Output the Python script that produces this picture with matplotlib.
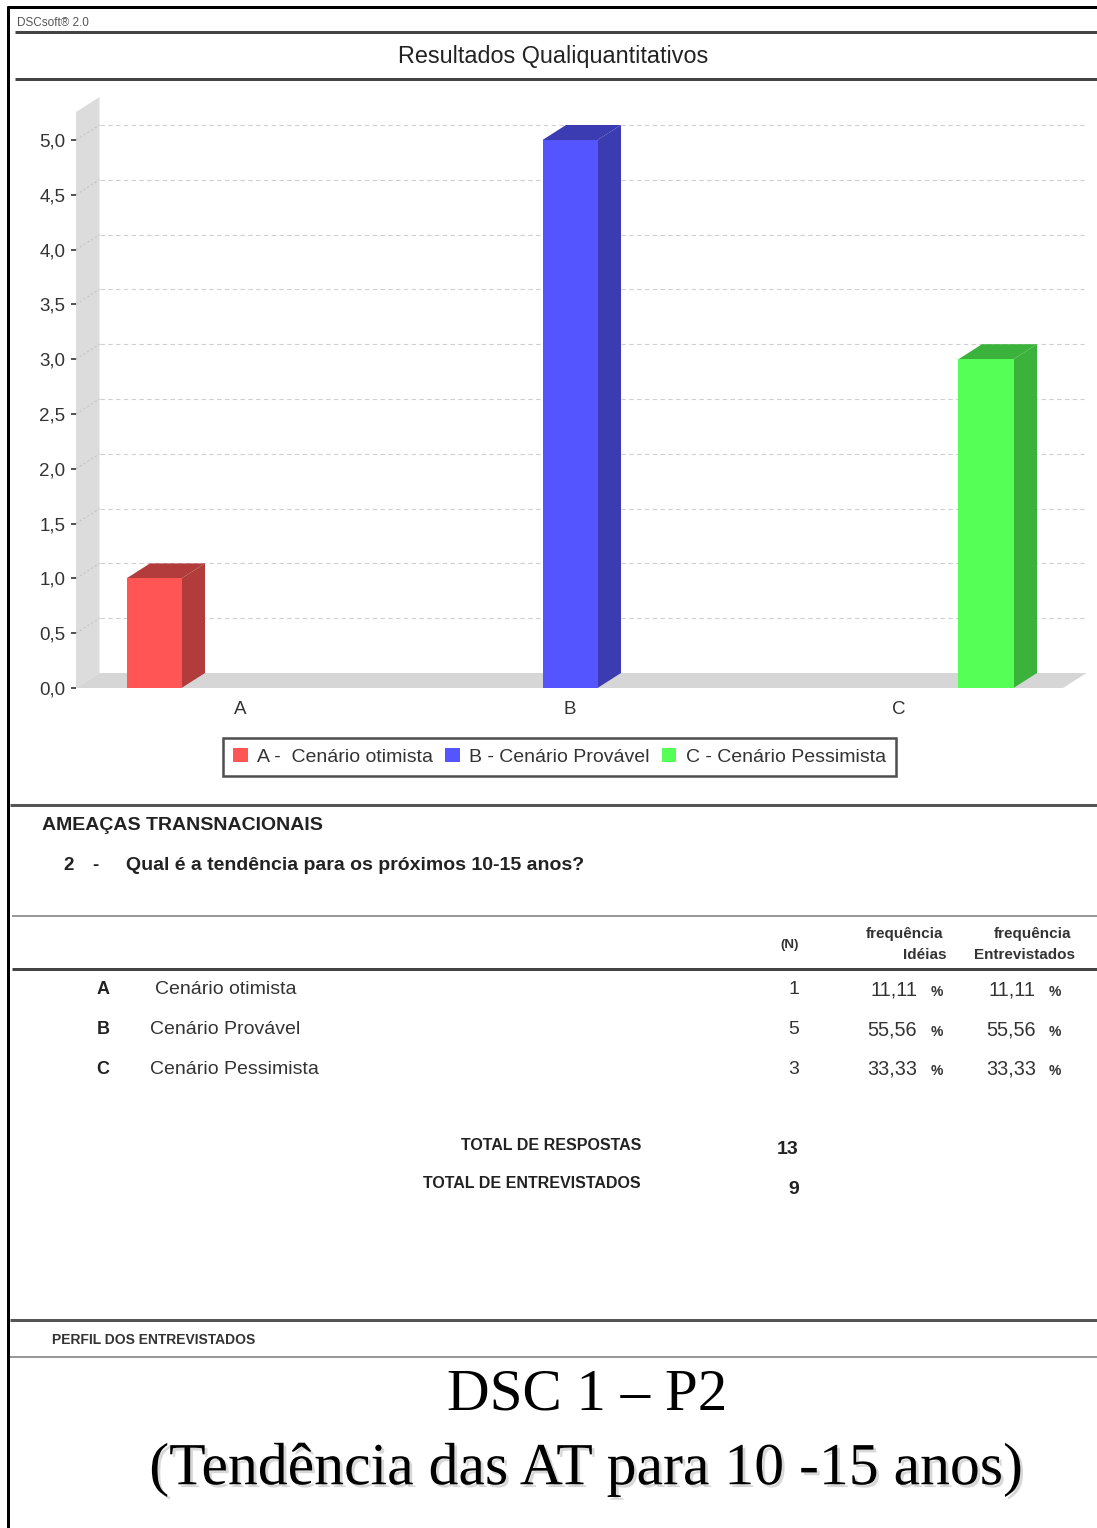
import matplotlib
matplotlib.use("Agg")
import matplotlib.pyplot as plt
from matplotlib.patches import Polygon
import matplotlib.patheffects as pe

# ---------------- data ----------------
categories = ["A", "B", "C"]
series_labels = ["A -  Cenário otimista", "B - Cenário Provável", "C - Cenário Pessimista"]
values = [1, 5, 3]
y_ticks = [0.0, 0.5, 1.0, 1.5, 2.0, 2.5, 3.0, 3.5, 4.0, 4.5, 5.0]
row_letters = ["A", "B", "C"]
row_names = ["Cenário otimista", "Cenário Provável", "Cenário Pessimista"]
row_n = ["1", "5", "3"]
freq_ideias = ["11,11", "55,56", "33,33"]
freq_entrev = ["11,11", "55,56", "33,33"]
total_respostas = "13"
total_entrevistados = "9"

front_colors = ["#ff5555", "#5555ff", "#55ff55"]
dark_colors = ["#b23b3b", "#3b3bb2", "#3bb23b"]

W, H = 1097, 1528
fig = plt.figure(figsize=(W / 100, H / 100), dpi=100)
SANS = ["Liberation Sans", "DejaVu Sans"]
SERIF = ["Liberation Serif", "DejaVu Serif"]

# page overlay in pixel coords
pg = fig.add_axes([0, 0, 1, 1])
pg.set_xlim(0, W)
pg.set_ylim(H, 0)
pg.axis("off")

def hline(y, x0, x1, px, color):
    pg.plot([x0, x1], [y, y], color=color, lw=px * 0.72, solid_capstyle="butt")

# borders
pg.plot([8, 8], [6, H], color="black", lw=3 * 0.72, solid_capstyle="butt")
hline(7, 7, W, 3, "black")
hline(32, 15, W, 3, "#444444")
hline(79, 15, W, 3, "#444444")
hline(805, 10, W, 3, "#555555")
hline(916, 12, W, 1.5, "#777777")
hline(969, 12, W, 3, "#444444")
hline(1320, 10, W, 3, "#555555")
hline(1357, 10, W, 1.5, "#777777")

pg.text(17, 23, "DSCsoft® 2.0", fontsize=8.5, family=SANS, color="#555555",
        va="center", ha="left", fontstretch="condensed")
pg.text(553, 56, "Resultados Qualiquantitativos", fontsize=16.8, family=SANS,
        color="#222222", ha="center", va="center")

# ---------------- chart ----------------
px_x = 987 / 3.0
px_y = 109.6
dx = 23.5 / px_x
dy = 15 / px_y
ytop = (688 - 112) / px_y

ax = fig.add_axes([76 / W, (H - 688) / H, 987 / W, (688 - 112) / H])
ax.set_facecolor("none")
ax.set_xlim(-0.5, 2.5)
ax.set_ylim(0, ytop)
for s in ax.spines.values():
    s.set_visible(False)

# left wall and floor
ax.add_patch(Polygon([(-0.5, 0), (-0.5 + dx, dy), (-0.5 + dx, ytop + dy), (-0.5, ytop)],
                     closed=True, facecolor="#dcdcdc", edgecolor="none", clip_on=False, zorder=0))
ax.add_patch(Polygon([(-0.5, 0), (-0.5 + dx, dy), (2.5 + dx, dy), (2.5, 0)],
                     closed=True, facecolor="#d6d6d6", edgecolor="none", clip_on=False, zorder=0.5))
# gridlines on back wall
for t in y_ticks[1:]:
    ax.plot([-0.5 + dx, 2.5 + dx * 0.9], [t + dy, t + dy], color="#cfcfcf", lw=0.8,
            ls=(0, (4, 3)), clip_on=False, zorder=0.3)
    ax.plot([-0.5, -0.5 + dx], [t, t + dy], color="#c4c4c4", lw=0.8,
            ls=(0, (2, 2)), clip_on=False, zorder=0.3)

bw = 55 / px_x
offsets = [-86.5 / px_x, 0.5 / px_x, 87.5 / px_x]
handles = []
for i, v in enumerate(values):
    xc = i + offsets[i]
    b = ax.bar([xc], [v], width=bw, color=front_colors[i], zorder=3, label=series_labels[i])
    handles.append(b)
    x0, x1 = xc - bw / 2, xc + bw / 2
    ax.add_patch(Polygon([(x0, v), (x0 + dx, v + dy), (x1 + dx, v + dy), (x1, v)],
                         closed=True, facecolor=dark_colors[i], edgecolor="none", zorder=2, clip_on=False))
    ax.add_patch(Polygon([(x1, 0), (x1 + dx, dy), (x1 + dx, v + dy), (x1, v)],
                         closed=True, facecolor=dark_colors[i], edgecolor="none", zorder=2, clip_on=False))

ax.set_yticks(y_ticks)
ax.set_yticklabels([f"{t:.1f}".replace(".", ",") for t in y_ticks], family=SANS,
                   fontsize=13.5, color="#333333")
ax.tick_params(axis="y", direction="out", length=3.5, width=1.2, color="#333333", pad=4)
ax.set_xticks(range(len(categories)))
ax.set_xticklabels(categories, family=SANS, fontsize=13.5, color="#333333")
ax.tick_params(axis="x", length=0, pad=9)

leg = fig.legend(handles=handles, labels=series_labels, loc="center",
                 bbox_to_anchor=(559.5 / W, (H - 757) / H), ncol=3, frameon=True,
                 fancybox=False, edgecolor="#222222", prop={"family": SANS, "size": 14},
                 handlelength=0.75, handleheight=0.75, handletextpad=0.5,
                 columnspacing=0.6, borderpad=0.5, borderaxespad=0)
leg.get_frame().set_linewidth(1.8)
for t in leg.get_texts():
    t.set_color("#333333")

# ---------------- text sections ----------------
pg.text(42, 826, "AMEAÇAS TRANSNACIONAIS", fontsize=14, family=SANS, weight="bold",
        color="#222222", va="center", ha="left")
pg.text(69, 865, "2", fontsize=13.5, family=SANS, weight="bold", color="#222222", va="center", ha="center")
pg.text(95, 865, "-", fontsize=13.5, family=SANS, weight="bold", color="#222222", va="center", ha="center")
pg.text(126, 865, "Qual é a tendência para os próximos 10-15 anos?", fontsize=14, family=SANS,
        weight="bold", color="#222222", va="center", ha="left")

pg.text(790, 945, "(N)", fontsize=9.5, family=SANS, weight="bold", color="#333333", va="center", ha="center")
pg.text(943, 934, "frequência", fontsize=11, family=SANS, weight="bold", color="#333333", va="center", ha="right")
pg.text(946, 955, "Idéias", fontsize=11, family=SANS, weight="bold", color="#333333", va="center", ha="right")
pg.text(1071, 934, "frequência", fontsize=11, family=SANS, weight="bold", color="#333333", va="center", ha="right")
pg.text(1075, 955, "Entrevistados", fontsize=11, family=SANS, weight="bold", color="#333333", va="center", ha="right")

row_y = [990, 1030, 1069]
name_x = [155, 150, 150]
for k in range(len(row_letters)):
    y = row_y[k]
    pg.text(103, y, row_letters[k], fontsize=13, family=SANS, weight="bold", color="#222222", va="center", ha="center")
    pg.text(name_x[k], y, row_names[k], fontsize=14, family=SANS, color="#333333", va="center", ha="left")
    pg.text(794, y, row_n[k], fontsize=14, family=SANS, color="#333333", va="center", ha="center")
    pg.text(917, y, freq_ideias[k], fontsize=14.3, family=SANS, color="#333333", va="center", ha="right")
    pg.text(937, y + 2, "%", fontsize=10, family=SANS, weight="bold", color="#333333", va="center", ha="center")
    pg.text(1036, y, freq_entrev[k], fontsize=14.3, family=SANS, color="#333333", va="center", ha="right")
    pg.text(1055, y + 2, "%", fontsize=10, family=SANS, weight="bold", color="#333333", va="center", ha="center")

pg.text(641, 1145, "TOTAL DE RESPOSTAS", fontsize=11.5, family=SANS, weight="bold", color="#222222",
        va="center", ha="right")
pg.text(788, 1149, total_respostas, fontsize=14, family=SANS, weight="bold", color="#222222", va="center", ha="center")
pg.text(641, 1184, "TOTAL DE ENTREVISTADOS", fontsize=11.5, family=SANS, weight="bold", color="#222222",
        va="center", ha="right")
pg.text(794, 1189, total_entrevistados, fontsize=14, family=SANS, weight="bold", color="#222222", va="center", ha="center")

pg.text(52, 1340, "PERFIL DOS ENTREVISTADOS", fontsize=10, family=SANS, weight="bold", color="#333333",
        va="center", ha="left")

pg.text(587, 1395, "DSC 1 – P2", fontsize=42.5, family=SERIF, color="black", va="center", ha="center")
pg.text(587, 1470, "(Tendência das AT para 10 -15 anos)", fontsize=43, family=SERIF, color="black",
        va="center", ha="center",
        path_effects=[pe.withSimplePatchShadow(offset=(2, -2), shadow_rgbFace="#aaaaaa", alpha=0.45)])

fig.savefig("out.png", dpi=100)
